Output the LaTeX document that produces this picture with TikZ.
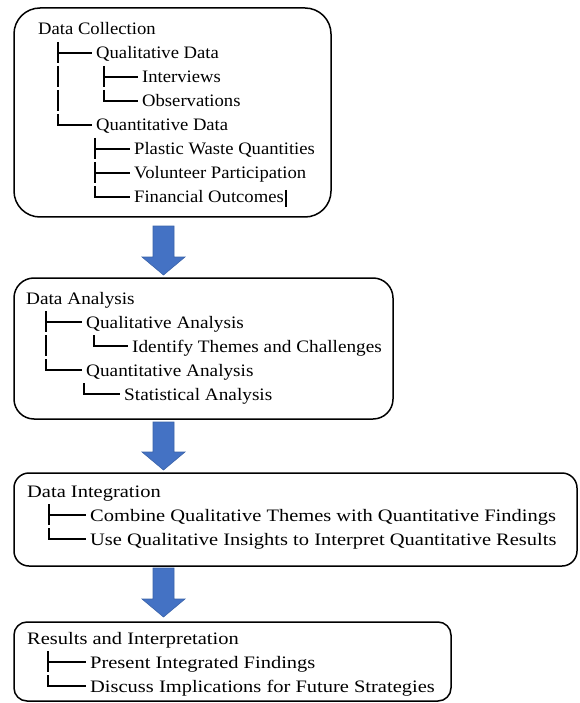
\documentclass[tikz,border=0pt]{standalone}
\usepackage{fontspec}
\setmainfont{Liberation Serif}
\usetikzlibrary{calc}
\definecolor{arrblue}{HTML}{4472C4}
\definecolor{arredge}{HTML}{3A62A8}
\tikzset{
  box/.style={draw=black, line width=1.5pt, fill=white},
  txt/.style={anchor=base west, inner sep=0pt, font=\fontsize{17.5}{20}\selectfont},
  tree/.style={draw=black, line width=1.1pt},
  arr/.style={fill=arrblue, draw=arredge, line width=0.6pt, line join=miter}
}
\newcommand\xs{1.17}
\newcommand\T[1]{\scalebox{\xs}[1]{#1}}
\newcommand\brT[3]{\draw[tree] (#1,#2-17) -- (#1,#2+4); \draw[tree] (#1,#2-6) -- ($(#3.base west)+(-4,-6)$);}
\newcommand\brL[3]{\draw[tree] (#1,#2-17) -- (#1,#2-6) -- ($(#3.base west)+(-4,-6)$);}
\newcommand\brI[2]{\draw[tree] (#1,#2-17) -- (#1,#2+4);}
\newcommand\blockarrow[4]{% x center, top, head start, tip
  \draw[arr] (#1-10.5,#2) -- (#1+10.5,#2) -- (#1+10.5,#3) -- (#1+21.5,#3) -- (#1,#4) -- (#1-21.5,#3) -- (#1-10.5,#3) -- cycle;}
\begin{document}
\begin{tikzpicture}[x=1pt,y=-1pt]
\useasboundingbox (0,0) rectangle (579,703);
% boxes
\draw[box, rounded corners=26pt] (14,8) rectangle (331,217);
\draw[box, rounded corners=20pt] (14,278) rectangle (393,419);
\draw[box, rounded corners=15pt] (14,473) rectangle (577,566);
\draw[box, rounded corners=13pt] (14,622) rectangle (451,701);
\coordinate (b1) at (172.5,112.5);
\coordinate (b2) at (203.5,348.5);
\coordinate (b3) at (295.5,519.5);
\coordinate (b4) at (232.5,661.5);
% arrows
\blockarrow{163.5}{226}{257}{275}
\blockarrow{163.5}{422}{452}{470}
\blockarrow{163.5}{568}{599}{617}
% box 1
\renewcommand\xs{1.065}
\node[txt] (dc) at (38,35) {\T{Data Collection}};
\node[txt] (qd) at (96,59) {\T{Qualitative Data}};
\node[txt] (iv) at (142,83) {\T{Interviews}};
\node[txt] (ob) at (142,107) {\T{Observations}};
\node[txt] (qn) at (96,131) {\T{Quantitative Data}};
\node[txt] (pw) at (134,155) {\T{Plastic Waste Quantities}};
\node[txt] (vp) at (134,179) {\T{Volunteer Participation}};
\node[txt] (fo) at (134,203) {\T{Financial Outcomes}};
\brT{58}{59}{qd}
\brI{58}{83}
\brI{58}{107}
\brL{58}{131}{qn}
\brT{104}{83}{iv}
\brL{104}{107}{ob}
\brT{95}{155}{pw}
\brT{95}{179}{vp}
\brL{95}{203}{fo}
\draw[line width=1.1pt] ($(fo.base east)+(2,-13)$) -- ($(fo.base east)+(2,4)$);
% box 2
\renewcommand\xs{1.10}
\node[txt] (da) at (26,304) {\T{Data Analysis}};
\node[txt] (qa) at (86,328) {\T{Qualitative Analysis}};
\node[txt] (it) at (132,352) {\T{Identify Themes and Challenges}};
\node[txt] (na) at (86,376) {\T{Quantitative Analysis}};
\node[txt] (sa) at (124,400) {\T{Statistical Analysis}};
\brT{46}{328}{qa}
\brI{46}{352}
\brL{46}{376}{na}
\brL{94}{352}{it}
\brL{84}{400}{sa}
% box 3
\renewcommand\xs{1.17}
\node[txt] (di) at (27,497) {\T{Data Integration}};
\node[txt] (cq) at (90,521) {\T{Combine Qualitative Themes with Quantitative Findings}};
\node[txt] (uq) at (90,545) {\T{Use Qualitative Insights to Interpret Quantitative Results}};
\brT{49}{521}{cq}
\brL{49}{545}{uq}
% box 4
\node[txt] (ri) at (27,644) {\T{Results and Interpretation}};
\node[txt] (pf) at (90,668) {\T{Present Integrated Findings}};
\node[txt] (di2) at (90,692) {\T{Discuss Implications for Future Strategies}};
\brT{48}{668}{pf}
\brL{48}{692}{di2}
\end{tikzpicture}
\end{document}
